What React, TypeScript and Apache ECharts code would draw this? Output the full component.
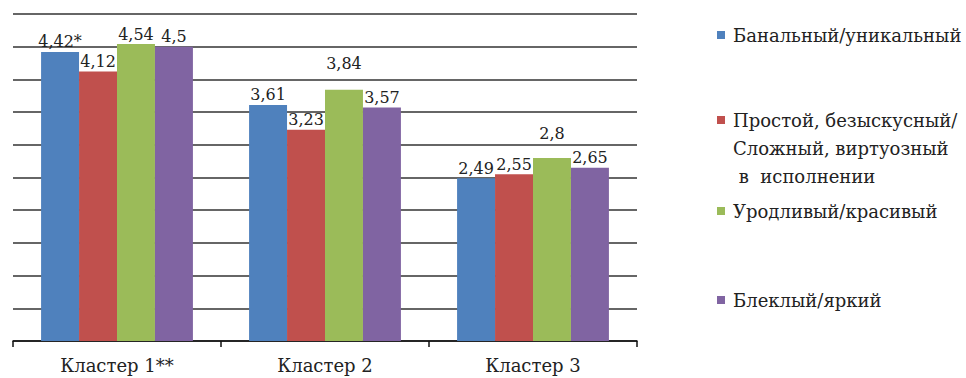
import React, { useEffect, useRef } from "react";
import * as echarts from "echarts";

const categories = ["Кластер 1**", "Кластер 2", "Кластер 3"];
const seriesNames = [
  "Банальный/уникальный",
  "Простой, безыскусный/",
  "Уродливый/красивый",
  "Блеклый/яркий",
];
const extraLegendLines = ["Сложный, виртуозный", " в  исполнении"];
const banalValues = [4.42, 3.61, 2.49];
const simpleValues = [4.12, 3.23, 2.55];
const uglyValues = [4.54, 3.84, 2.8];
const paleValues = [4.5, 3.57, 2.65];
const banalNotes = ["*", "", ""];
const yMin = 0;
const yMax = 5;
const yInterval = 0.5;

const colors = ["#4F81BD", "#C0504D", "#9BBB59", "#8064A2"];
const FONT = "DejaVu Serif";
const TEXT = "#222";

export default function App() {
  const ref = useRef<HTMLDivElement>(null);
  useEffect(() => {
    if (!ref.current) return;
    const chart = echarts.init(ref.current, null, { renderer: "svg" });
    const valueSets = [banalValues, simpleValues, uglyValues, paleValues];
    const greenLift = [0, 16, 14];
    const fmt = (v: number) => String(v).replace(".", ",");
    const series = valueSets.map((vals, si) => ({
      name: seriesNames[si],
      type: "bar",
      barGap: "0%",
      barCategoryGap: "27%",
      itemStyle: { color: colors[si] },
      label: {
        show: true,
        position: "top",
        distance: 2,
        color: TEXT,
        fontFamily: FONT,
        fontSize: 16,
      },
      data: vals.map((v, i) => ({
        value: v,
        label: {
          formatter: () => fmt(v) + (si === 0 ? banalNotes[i] : ""),
          offset: si === 2 ? [0, -greenLift[i]] : [0, 0],
        },
      })),
    }));
    const legendTops = [21, 106, 197, 286];
    const legends = seriesNames.map((n, i) => ({
      orient: "vertical",
      left: 717,
      top: legendTops[i],
      padding: 0,
      data: [n],
      itemWidth: 8,
      itemHeight: 8,
      icon: "rect",
      selectedMode: false,
      textStyle: {
        fontFamily: FONT,
        fontSize: 18,
        color: TEXT,
        lineHeight: 28,
        padding: [0, 0, 0, 3],
      },
    }));
    chart.setOption({
      animation: false,
      color: colors,
      textStyle: { fontFamily: FONT },
      grid: { left: 13, right: 329, top: 14, bottom: 37, containLabel: false },
      legend: legends,
      xAxis: {
        type: "category",
        data: categories,
        axisLine: { show: true, lineStyle: { color: "#111", width: 1.5 } },
        axisTick: { show: true, length: 6, lineStyle: { color: "#111", width: 1.5 } },
        axisLabel: {
          color: TEXT,
          fontFamily: FONT,
          fontSize: 18,
          margin: 15,
        },
      },
      yAxis: {
        type: "value",
        min: yMin,
        max: yMax,
        interval: yInterval,
        axisLabel: { show: false },
        axisLine: { show: false },
        axisTick: { show: false },
        splitLine: { show: true, lineStyle: { color: "#333", width: 1.5 } },
      },
      graphic: extraLegendLines.map((t, i) => ({
        type: "text",
        left: 733,
        top: 134 + i * 28,
        style: {
          text: t,
          fontFamily: FONT,
          fontSize: 18,
          lineHeight: 28,
          fill: TEXT,
        },
      })),
      series,
    });
    return () => chart.dispose();
  }, []);
  return (
    <div
      ref={ref}
      style={{ position: "absolute", left: 0, top: 0, width: 966, height: 378 }}
    />
  );
}
